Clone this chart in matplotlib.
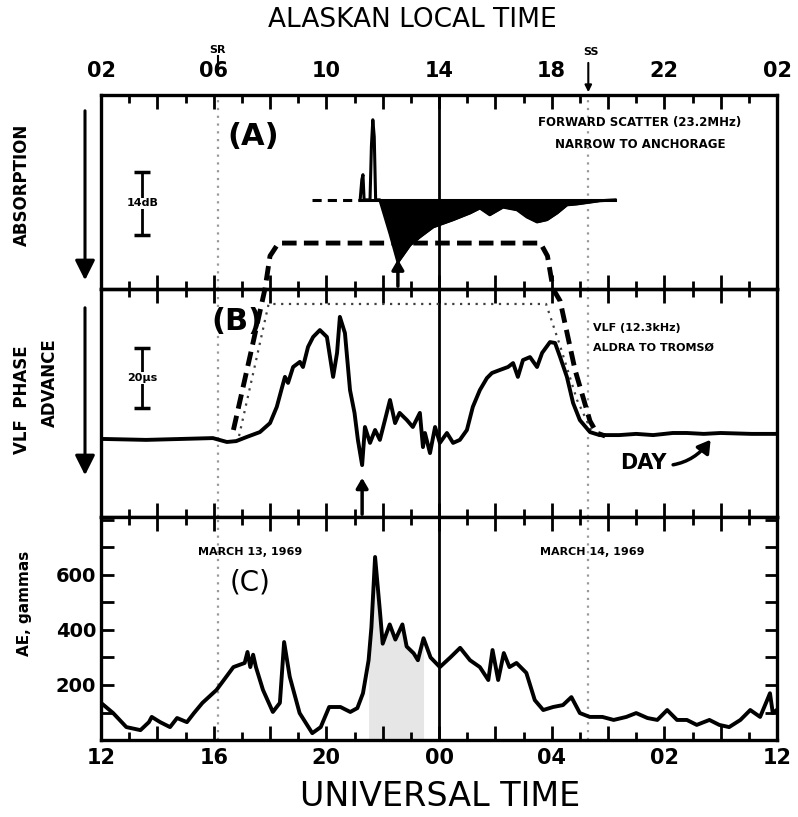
import matplotlib
matplotlib.use("Agg")
import matplotlib.pyplot as plt
import numpy as np

plt.rcParams['font.family'] = ['DejaVu Sans']
plt.rcParams['font.weight'] = 'bold'

# Time axis: UT hours counted from 12 UT on March 13 (36 = 12 UT March 14)
ut_label_pos = [12, 16, 20, 24, 28, 32, 36]
ut_labels = ['12', '16', '20', '00', '04', '02', '12']
lt_labels = ['02', '06', '10', '14', '18', '22', '02']
sunrise_ut = 16.15
sunset_ut = 29.3

# (A) forward scatter absorption, dB (positive = more absorption)
abs_t = [21.2, 21.26, 21.3, 21.34, 21.55, 21.6, 21.65, 21.7, 21.75, 21.9,
         22.26, 22.54, 22.97, 23.32, 23.79, 24.5, 25.1, 25.45, 25.8, 26.27,
         26.77, 27.12, 27.48, 27.83, 28.19, 28.54, 28.9, 29.7, 30.25]
abs_db = [0, -4.5, -5.6, 0, 0, -12, -17.8, -14, 0, 0,
          7.5, 13.8, 10, 8.2, 6, 4.4, 2.9, 1.8, 3.3, 1.6,
          2.2, 3.8, 4.9, 4.4, 2.9, 1.1, 0.9, 0.2, 0]
abs_quiet_t = [19.5, 21.2]

# (B) VLF phase advance, microseconds
vlf_t = [12.0, 12.14, 13.6, 14.8, 15.97, 16.47, 16.8, 17.18, 17.64, 18.0,
         18.24, 18.43, 18.53, 18.64, 18.82, 19.06, 19.17, 19.35, 19.53, 19.77,
         20.02, 20.13, 20.24, 20.38, 20.48, 20.66, 20.84, 21.0, 21.12, 21.27,
         21.37, 21.55, 21.73, 21.9, 22.08, 22.26, 22.44, 22.6, 22.86, 23.07,
         23.32, 23.43, 23.5, 23.68, 23.86, 24.03, 24.28, 24.5, 24.74, 24.99,
         25.2, 25.45, 25.7, 25.88, 26.16, 26.45, 26.63, 26.8, 26.98, 27.23,
         27.48, 27.66, 27.94, 28.12, 28.3, 28.54, 28.76, 29.0, 29.36, 29.7,
         30.4, 31.0, 31.6, 32.3, 32.8, 33.4, 34.0, 35.1, 36.0]
vlf_us = [-1, -1, -1.3, -1, -0.7, -2, -1.7, -0.3, 1.3, 4.3,
          9.7, 16.3, 19.7, 17.7, 23, 24.7, 23, 29.7, 33, 35.3,
          33, 26.3, 19.7, 27.7, 39.7, 34.3, 15.3, 7.7, -1.3, -9.7,
          3, -2.3, 2, -1.3, 5.3, 12, 4.3, 7.7, 5.3, 3,
          7.7, -3.7, 1, -5.7, 3, -2.3, 1, -2.3, -1.3, 2,
          9.7, 15.3, 19.3, 21, 22, 23, 24.3, 19.7, 25.3, 26.3,
          23, 27.7, 31.3, 31, 26.3, 19.7, 11, 5.3, 1.3, 0.3,
          0.3, 0.7, 0.3, 1, 1, 0.7, 1, 0.7, 0.7]

# quiet-day VLF curves
day_t = [16.7, 17.3, 17.82, 18.0, 18.3, 27.6, 27.85, 28.05, 28.3, 28.83, 29.36, 29.6, 29.9]
day_us = [2, 27, 49, 60, 64.3, 64.3, 60, 49, 45, 22, 5, 1, 0]
day2_t = [16.9, 17.5, 17.95, 27.8, 28.3, 28.9, 29.4]
day2_us = [0, 25, 44, 44, 30, 12, 2]

# (C) AE index, gammas
ae_t = [12.0, 12.43, 12.9, 13.4, 13.7, 13.8, 14.1, 14.45, 14.7, 15.05,
        15.3, 15.6, 16.1, 16.7, 17.1, 17.2, 17.3, 17.4, 17.5, 17.75,
        18.1, 18.35, 18.5, 18.7, 19.05, 19.5, 19.8, 20.1, 20.5, 20.85,
        21.1, 21.3, 21.5, 21.6, 21.73, 21.9, 22.0, 22.25, 22.45, 22.7,
        22.85, 23.1, 23.25, 23.45, 23.7, 24.03, 24.4, 24.75, 25.1, 25.45,
        25.75, 25.9, 26.1, 26.3, 26.5, 26.75, 27.1, 27.4, 27.7, 28.05,
        28.4, 28.7, 29.0, 29.35, 29.8, 30.2, 30.65, 31.0, 31.4, 31.75,
        32.1, 32.45, 32.8, 33.15, 33.6, 33.95, 34.3, 34.7, 35.05, 35.4,
        35.65, 35.75, 35.85, 36.0]
ae_gamma = [135, 98, 47, 36, 65, 84, 65, 47, 80, 65,
            98, 135, 182, 265, 280, 320, 265, 310, 265, 182,
            102, 135, 356, 230, 98, 25, 47, 120, 120, 102,
            116, 170, 290, 410, 665, 470, 350, 420, 365, 420,
            340, 315, 290, 370, 300, 265, 300, 335, 290, 265,
            218, 327, 218, 316, 265, 280, 244, 145, 109, 120,
            127, 156, 98, 84, 84, 73, 84, 98, 80, 73,
            109, 73, 73, 55, 73, 55, 47, 73, 109, 84,
            145, 170, 98, 110]

fig = plt.figure(figsize=(7.98, 8.17), dpi=100)
axA = fig.add_axes([0.1266, 0.6463, 0.8471, 0.2374])
axB = fig.add_axes([0.1266, 0.3672, 0.8471, 0.2791])
axC = fig.add_axes([0.1266, 0.0942, 0.8471, 0.2729])
# panel A on top so the black absorption fill covers the day curve
axA.set_zorder(axB.get_zorder() + 1)
axA.patch.set_alpha(0)

major_pos = np.arange(12, 37, 2)


def time_axis(ax):
    ax.set_xlim(12, 36)
    ax.set_xticks(np.arange(12, 37, 1), minor=True)
    ax.tick_params(axis='x', which='both', direction='in', top=True, bottom=True,
                   width=2, labelsize=15, pad=6)
    ax.tick_params(axis='x', which='major', length=10)
    ax.tick_params(axis='x', which='minor', length=6)
    for s in ax.spines.values():
        s.set_linewidth(2.4)
    ax.axvline(24, color='k', lw=2)
    for t in (sunrise_ut, sunset_ut):
        ax.axvline(t, color='0.6', lw=1.6, ls=(0, (1, 2.5)), zorder=0)


for ax in (axA, axB, axC):
    time_axis(ax)

top_map = dict(zip(ut_label_pos, lt_labels))
axA.set_xticks(major_pos, [top_map.get(p, '') for p in major_pos])
axA.tick_params(axis='x', labeltop=True, labelbottom=False, pad=10)
axB.set_xticks(major_pos, [''] * len(major_pos))
bot_map = dict(zip(ut_label_pos, ut_labels))
axC.set_xticks(major_pos, [bot_map.get(p, '') for p in major_pos])

# ---- (A) absorption
axA.set_ylim(19.8, -23.3)
axA.set_yticks([])
axA.plot(abs_quiet_t, [0, 0], color='k', lw=2.2, ls=(0, (3, 2)))
axA.plot(abs_t, abs_db, color='k', lw=2.2)
axA.plot([abs_t[0], abs_t[-1]], [0, 0], color='k', lw=2.2)
axA.fill_between(abs_t, 0, abs_db, where=np.array(abs_db) > 0, color='k', interpolate=True)
axA.annotate('', xy=(abs_t[11], 12.6), xytext=(abs_t[11], 19.8),
             arrowprops=dict(arrowstyle='-|>,head_width=0.35,head_length=0.6', lw=2.5, color='k'))
axA.plot([13.46, 13.46], [-6.2, 7.8], color='k', lw=2, marker='_', ms=12, mew=2.5)
axA.text(13.46, 0.8, '14dB', ha='center', va='center', fontsize=8,
         bbox=dict(fc='white', ec='none', pad=0.5))
axA.text(17.4, -14, '(A)', ha='center', va='center', fontsize=22)
axA.text(31.13, -17.1, 'FORWARD SCATTER (23.2MHz)', ha='center', va='center', fontsize=8.5)
axA.text(31.13, -12.2, 'NARROW TO ANCHORAGE', ha='center', va='center', fontsize=8.5)

# sunrise / sunset marks above the local time scale
axA.text(sunrise_ut, 1.23, 'SR', transform=axA.get_xaxis_transform(),
         ha='center', va='center', fontsize=8)
axA.plot([sunrise_ut, sunrise_ut], [1.15, 1.2], transform=axA.get_xaxis_transform(),
         color='k', lw=1.5, clip_on=False)
axA.text(sunset_ut + 0.1, 1.22, 'SS', transform=axA.get_xaxis_transform(),
         ha='center', va='center', fontsize=8)
axA.annotate('', xy=(sunset_ut, 1.0), xytext=(sunset_ut, 1.18),
             xycoords=axA.get_xaxis_transform(),
             arrowprops=dict(arrowstyle='-|>,head_width=0.2,head_length=0.4', lw=1.5, color='k'))

# ---- (B) VLF phase
axB.set_ylim(-27, 49)
axB.set_yticks([])
axB.plot(day_t, day_us, color='k', lw=3.5, ls=(0, (3, 1.5)), clip_on=False, zorder=3)
axB.plot(day2_t, day2_us, color='0.25', lw=1.6, ls=(0, (1, 2.5)), clip_on=False, zorder=3)
axB.plot(vlf_t, vlf_us, color='k', lw=2.8, zorder=4)
axB.annotate('', xy=(vlf_t[29], -13), xytext=(vlf_t[29], -27),
             arrowprops=dict(arrowstyle='-|>,head_width=0.35,head_length=0.6', lw=2.5, color='k'))
axB.plot([13.46, 13.46], [9.3, 29.3], color='k', lw=2, marker='_', ms=12, mew=2.5)
axB.text(13.46, 19.3, '20µs', ha='center', va='center', fontsize=8,
         bbox=dict(fc='white', ec='none', pad=0.5))
axB.text(16.83, 38, '(B)', ha='center', va='center', fontsize=22)
axB.text(29.47, 36, 'VLF (12.3kHz)', ha='left', va='center', fontsize=8)
axB.text(29.47, 29.3, 'ALDRA TO TROMSØ', ha='left', va='center', fontsize=8)
axB.annotate('DAY', xy=(33.7, -0.5), xytext=(31.24, -9), fontsize=15,
             ha='center', va='center',
             arrowprops=dict(arrowstyle='-|>,head_width=0.3,head_length=0.5', lw=2.5,
                             color='k', connectionstyle='arc3,rad=0.35', shrinkA=3))

# ---- (C) AE index
axC.set_ylim(0, 810)
axC.set_yticks([200, 400, 600])
axC.set_yticks(np.arange(100, 801, 100), minor=True)
axC.tick_params(axis='y', which='both', direction='in', left=True, right=True,
                length=9, width=2, labelsize=14)
axC.fill_between(ae_t, 0, ae_gamma, where=(np.array(ae_t) > 21.4) & (np.array(ae_t) < 23.6),
                 color='0.9', lw=0, zorder=1)
axC.plot(ae_t, ae_gamma, color='k', lw=2.8, zorder=3)
axC.text(17.29, 684, 'MARCH 13, 1969', ha='center', va='center', fontsize=8)
axC.text(17.3, 571, '(C)', ha='center', va='center', fontsize=20, fontweight='normal')
axC.text(29.43, 684, 'MARCH 14, 1969', ha='center', va='center', fontsize=8)

# axis titles and side labels
fig.text(412 / 798, 1 - 20 / 817, 'ALASKAN LOCAL TIME', ha='center', va='center',
         fontsize=19, fontweight='normal')
fig.text(440 / 798, 1 - 797 / 817, 'UNIVERSAL TIME', ha='center', va='center',
         fontsize=24, fontweight='normal')
fig.text(22 / 798, 1 - 185 / 817, 'ABSORPTION', rotation=90, ha='center', va='center', fontsize=12)
fig.text(22 / 798, 1 - 400 / 817, 'VLF  PHASE', rotation=90, ha='center', va='center', fontsize=12)
fig.text(50 / 798, 1 - 383 / 817, 'ADVANCE', rotation=90, ha='center', va='center', fontsize=12)
fig.text(25 / 798, 1 - 603 / 817, 'AE, gammas', rotation=90, ha='center', va='center', fontsize=11)
for y0, y1 in ((108, 283), (305, 478)):
    fig.add_artist(matplotlib.patches.FancyArrowPatch(
        (85 / 798, 1 - y0 / 817), (85 / 798, 1 - y1 / 817), transform=fig.transFigure,
        arrowstyle='-|>,head_width=0.3,head_length=0.6', lw=2.2, color='k', mutation_scale=20))

fig.savefig('out.png', dpi=100)
